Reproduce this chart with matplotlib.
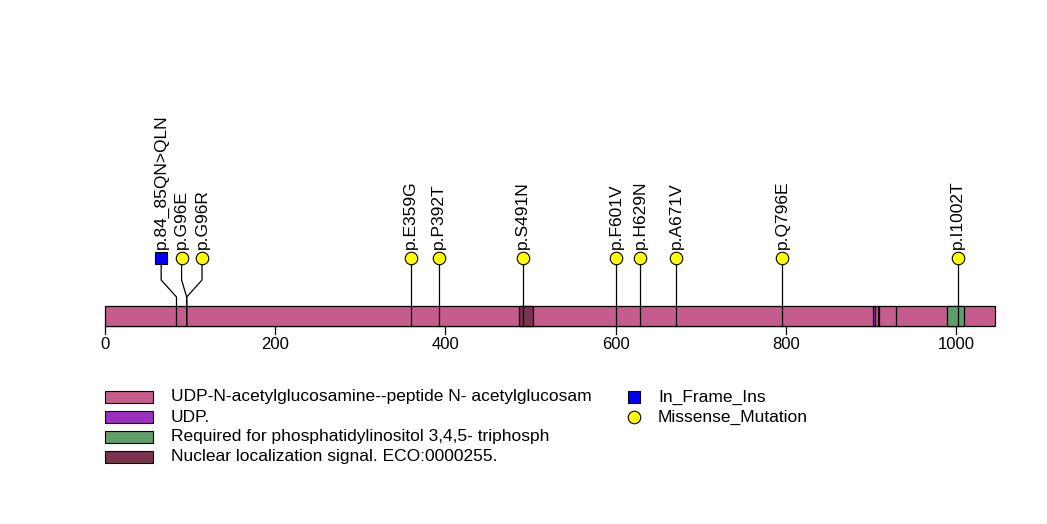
import matplotlib
matplotlib.use("Agg")
import matplotlib.pyplot as plt
from matplotlib.patches import Rectangle

plt.rcParams['font.family'] = ['Liberation Sans', 'DejaVu Sans']

# protein and domains
protein_len = 1046
domain_starts = [1, 487, 904, 909, 930, 990]
domain_ends = [1046, 503, 905, 910, 930, 1009]
domain_kind = [0, 3, 1, 1, 1, 2]
domain_names = ["UDP-N-acetylglucosamine--peptide N- acetylglucosam",
                "UDP.",
                "Required for phosphatidylinositol 3,4,5- triphosph",
                "Nuclear localization signal. ECO:0000255."]
domain_colors = ["#C55C8B", "#9A2FC0", "#5E9E68", "#7A3350"]

# mutations
mut_pos = [84, 96, 96, 359, 392, 491, 601, 629, 671, 796, 1002]
mut_label = ["p.84_85QN>QLN", "p.G96E", "p.G96R", "p.E359G", "p.P392T", "p.S491N",
             "p.F601V", "p.H629N", "p.A671V", "p.Q796E", "p.I1002T"]
mut_type = ["In_Frame_Ins"] + ["Missense_Mutation"] * 10
# head positions after spreading crowded labels
head_pos = [66, 90, 114, 359, 392, 491, 601, 629, 671, 796, 1002]
type_style = {"In_Frame_Ins": ("s", "#0000FF"), "Missense_Mutation": ("o", "#FFFF00")}

fig = plt.figure(figsize=(10.47, 5.24), dpi=100)
ax = fig.add_axes([0, 0, 1, 1])
px = 0.851  # pixels per residue
ax.set_xlim(-105 / px, (1047 - 105) / px)
ax.set_ylim(524, 0)
ax.axis("off")

bar_top, bar_bot = 306, 326
head_y = 258
fs = 12.5

# main bar and domains
for s, e, k in zip(domain_starts, domain_ends, domain_kind):
    ax.add_patch(Rectangle((s - 1, bar_top), e - s + 1, bar_bot - bar_top,
                           facecolor=domain_colors[k], edgecolor="black", lw=0.9, zorder=2))

# lollipops
for p, h, lab, t in zip(mut_pos, head_pos, mut_label, mut_type):
    if h != p:
        ax.plot([h, h, p, p], [head_y, 280, 297, bar_bot], color="black", lw=0.9, zorder=3)
    else:
        ax.plot([p, p], [head_y, bar_bot], color="black", lw=0.9, zorder=3)
    m, c = type_style[t]
    ax.plot([h], [head_y], marker=m, ms=9 if m == "o" else 8.5, mfc=c, mec="black",
            mew=0.8, ls="none", zorder=4)
    ax.text(h, 249, lab, rotation=90, ha="center", va="bottom", fontsize=fs)

# x axis
ticks = [0, 200, 400, 600, 800, 1000]
ax.plot([0, 1000], [bar_bot, bar_bot], color="black", lw=0.9, zorder=1)
for t in ticks:
    ax.plot([t, t], [bar_bot, 334], color="black", lw=0.9)
    ax.text(t, 337, str(t), ha="center", va="top", fontsize=12)

# legend
lx0 = -105 / px
for i, (name, col) in enumerate(zip(domain_names, domain_colors)):
    y = 391 + i * 20
    ax.add_patch(Rectangle((lx0 + 105 / px, y), 48 / px, 12, facecolor=col,
                           edgecolor="black", lw=0.8))
    ax.text(lx0 + 171 / px, y + 6, name, ha="left", va="center", fontsize=fs)

for i, t in enumerate(["In_Frame_Ins", "Missense_Mutation"]):
    m, c = type_style[t]
    y = 397 + i * 20
    ax.plot([lx0 + 634 / px], [y], marker=m, ms=9 if m == "o" else 8.5, mfc=c,
            mec="black", mew=0.8, ls="none")
    ax.text(lx0 + 658 / px, y, t, ha="left", va="center", fontsize=fs)

fig.savefig("out.png", dpi=100)
